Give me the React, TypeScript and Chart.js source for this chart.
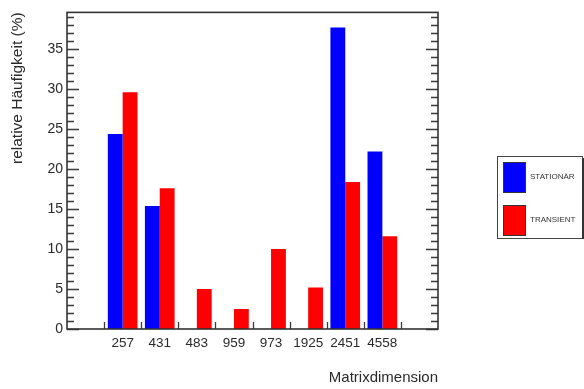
import React, { useEffect, useRef } from 'react';
import { Chart, registerables } from 'chart.js';

Chart.register(...registerables);

// ---- data ----
const categories = ['', '257', '431', '483', '959', '973', '1925', '2451', '4558', ''];
const stationaerValues = [0, 24.4, 15.4, 0, 0, 0, 0, 37.7, 22.2, 0];
const transientValues = [0, 29.6, 17.6, 5.0, 2.5, 10.0, 5.2, 18.4, 11.6, 0];
const seriesLabels = ['STATIONÄR', 'TRANSIENT'];
const seriesColors = ['#0000ff', '#ff0000'];
const yMajorStep = 5;
const yMinorStep = 1;
const yMax = 39.6;
const yTitle = 'relative Häufigkeit (%)';
const xTitle = 'Matrixdimension';

const FONT = '"Liberation Sans", Arial, Helvetica, sans-serif';
const TEXT = '#2a2a2a';

const framePlugin = {
  id: 'rootFrame',
  afterDraw(chart: any) {
    const { ctx, chartArea: a, scales } = chart;
    const x = scales.x;
    const y = scales.y;
    ctx.save();
    ctx.strokeStyle = '#3a3a3a';
    ctx.lineWidth = 1.3;
    ctx.beginPath();
    for (let v = 0; v <= yMax + 1e-9; v += yMinorStep) {
      const py = Math.round(y.getPixelForValue(v)) + 0.5;
      const len = Math.abs(v % yMajorStep) < 1e-9 ? 12 : 7;
      ctx.moveTo(a.left, py);
      ctx.lineTo(a.left + len, py);
      ctx.moveTo(a.right, py);
      ctx.lineTo(a.right - len, py);
    }
    for (let i = 1; i < categories.length; i++) {
      const px = Math.round((x.getPixelForValue(i - 1) + x.getPixelForValue(i)) / 2) + 0.5;
      ctx.moveTo(px, a.bottom);
      ctx.lineTo(px, a.bottom - 7);
    }
    ctx.stroke();
    ctx.lineWidth = 1.6;
    ctx.strokeStyle = '#333';
    ctx.strokeRect(a.left, a.top, a.right - a.left, a.bottom - a.top);
    ctx.restore();
  },
};

const legendPlugin = {
  id: 'rootLegend',
  afterDraw(chart: any) {
    const { ctx } = chart;
    const bx = 497, by = 156, bw = 85, bh = 82;
    ctx.save();
    ctx.fillStyle = '#fff';
    ctx.fillRect(bx, by, bw, bh);
    ctx.strokeStyle = '#444';
    ctx.lineWidth = 1;
    ctx.strokeRect(bx + 0.5, by + 0.5, bw, bh);
    ctx.fillStyle = '#333';
    ctx.fillRect(bx + bw, by + 2, 2, bh - 1);
    chart.data.datasets.forEach((ds: any, i: number) => {
      const sy = by + 6 + i * 43;
      ctx.fillStyle = ds.backgroundColor;
      ctx.fillRect(503, sy, 22, 30);
      ctx.strokeStyle = '#333';
      ctx.lineWidth = 1;
      ctx.strokeRect(503.5, sy + 0.5, 22, 30);
      ctx.fillStyle = '#333';
      ctx.font = `8px ${FONT}`;
      ctx.textBaseline = 'middle';
      ctx.textAlign = 'left';
      ctx.fillText(ds.label, 530, sy + 15);
    });
    ctx.restore();
  },
};

export default function App() {
  const canvasRef = useRef<HTMLCanvasElement | null>(null);

  useEffect(() => {
    const canvas = canvasRef.current;
    if (!canvas) return;
    const chart = new Chart(canvas, {
      type: 'bar',
      data: {
        labels: categories,
        datasets: [
          {
            label: seriesLabels[0],
            data: stationaerValues,
            backgroundColor: seriesColors[0],
            borderWidth: 0,
            categoryPercentage: 0.8,
            barPercentage: 1.0,
          },
          {
            label: seriesLabels[1],
            data: transientValues,
            backgroundColor: seriesColors[1],
            borderWidth: 0,
            categoryPercentage: 0.8,
            barPercentage: 1.0,
          },
        ],
      },
      options: {
        responsive: false,
        animation: false,
        devicePixelRatio: 1,
        layout: { padding: { top: 10, right: 146, left: 0, bottom: 0 } },
        plugins: {
          legend: { display: false },
          tooltip: { enabled: false },
          title: { display: false },
        },
        scales: {
          x: {
            type: 'category',
            grid: { display: false, drawTicks: false },
            border: { display: false },
            ticks: {
              autoSkip: false,
              maxRotation: 0,
              minRotation: 0,
              padding: 6,
              color: TEXT,
              font: { family: FONT, size: 13.5 },
            },
            title: {
              display: true,
              text: xTitle,
              align: 'end',
              color: TEXT,
              font: { family: FONT, size: 15 },
              padding: { top: 0, bottom: 2 },
            },
            afterFit(scale: any) {
              scale.height = 60;
            },
          },
          y: {
            type: 'linear',
            min: 0,
            max: yMax,
            grid: { display: false, drawTicks: false },
            border: { display: false },
            ticks: {
              stepSize: yMajorStep,
              padding: 4,
              color: TEXT,
              font: { family: FONT, size: 14 },
            },
            afterBuildTicks(scale: any) {
              scale.ticks = scale.ticks.filter((t: any) => Math.abs(t.value % yMajorStep) < 1e-9);
            },
            title: {
              display: true,
              text: yTitle,
              align: 'end',
              color: TEXT,
              font: { family: FONT, size: 15.5 },
              padding: { top: 8, bottom: 0 },
            },
            afterFit(scale: any) {
              scale.width = 67;
            },
          },
        },
      },
      plugins: [framePlugin, legendPlugin],
    } as any);
    return () => chart.destroy();
  }, []);

  return (
    <div style={{ position: 'absolute', left: 0, top: 0, width: 584, height: 389, background: '#fff' }}>
      <canvas ref={canvasRef} width={584} height={389} />
    </div>
  );
}
